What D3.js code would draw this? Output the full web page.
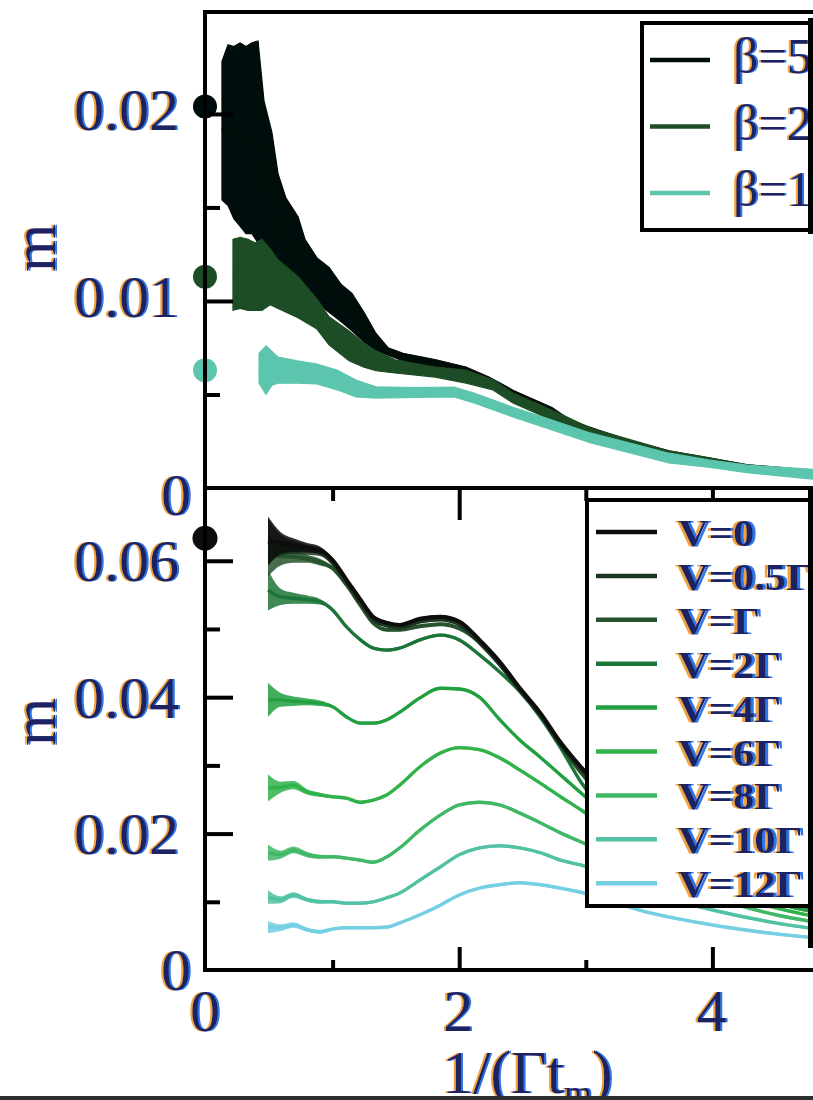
<!DOCTYPE html>
<html>
<head>
<meta charset="utf-8">
<script src="https://cdn.jsdelivr.net/npm/d3@7"></script>
<style>
  html, body { margin: 0; padding: 0; background: #fff; overflow: hidden; }
  svg { display: block; }
</style>
</head>
<body>
<svg id="chart" width="813" height="1100"></svg>
<script>
// ---------- shared abscissa: 1/(Γ t) ----------
const xMajorTicks = [2, 4];
const xMinorTicks = [1, 3];
const xTickLabels = [[0, "0"], [2, "2"], [4, "4"]];

// ---------- upper panel: temperature series (value and half error bar) ----------
const betaLabels = ["β=5", "β=2", "β=1"];
const betaExact = [0.0204, 0.0113, 0.0063];   // exact values at 1/(Γt) = 0

const beta5X   = [0.126, 0.174, 0.22, 0.269, 0.316, 0.363, 0.411, 0.458, 0.521, 0.569, 0.632, 0.727, 0.782, 0.877, 0.972, 1.066, 1.153, 1.248, 1.343, 1.438, 1.556, 1.809, 2.054, 2.235, 2.425, 2.733, 2.883, 3.041, 3.349, 3.657, 3.965, 4.273, 4.581, 4.795, 5.0];
const beta5M   = [0.0191, 0.0194, 0.0190, 0.0189, 0.0186, 0.0187, 0.0185, 0.0167, 0.0156, 0.0143, 0.0134, 0.0125, 0.0118, 0.0111, 0.0106, 0.0099, 0.0094, 0.0086, 0.0078, 0.0073, 0.0070, 0.0066, 0.0062, 0.00578, 0.00508, 0.00417, 0.00348, 0.00310, 0.00241, 0.00187, 0.00150, 0.00112, 0.00096, 0.00080, 0.00064];
const beta5Err = [0.0037, 0.0043, 0.0046, 0.0049, 0.0050, 0.0051, 0.0054, 0.0040, 0.0034, 0.0025, 0.0021, 0.0020, 0.0015, 0.0012, 0.0012, 0.0010, 0.0010, 0.0008, 0.00046, 0.0002, 0.0002, 0.00027, 0.00027, 0.00015, 0.00015, 0.00013, 0.00013, 0.00013, 0.00013, 0.00012, 0.00012, 0.00012, 0.00012, 0.00012, 0.00012];

const beta2X   = [0.213, 0.27, 0.332, 0.39, 0.442, 0.506, 0.569, 0.727, 0.877, 0.972, 1.13, 1.248, 1.343, 1.493, 1.809, 2.054, 2.267, 2.425, 2.733, 3.041, 3.657, 4.273, 5.0];
const beta2M   = [0.0114, 0.0115, 0.0114, 0.0113, 0.0114, 0.0113, 0.0109, 0.0102, 0.0093, 0.0084, 0.0076, 0.0071, 0.0068, 0.0065, 0.0062, 0.00596, 0.00551, 0.00481, 0.00390, 0.00299, 0.00179, 0.00107, 0.00061];
const beta2Err = [0.0019, 0.0019, 0.0019, 0.0018, 0.0019, 0.0015, 0.0013, 0.0011, 0.0008, 0.00075, 0.0008, 0.00064, 0.00053, 0.00035, 0.00027, 0.00035, 0.00027, 0.00027, 0.00027, 0.0002, 0.0002, 0.00018, 0.00016];

const beta1X   = [0.419, 0.474, 0.521, 0.569, 0.72, 0.877, 1.035, 1.185, 1.343, 1.651, 1.959, 2.117, 2.425, 2.733, 3.041, 3.349, 3.657, 3.965, 4.273, 4.771, 5.0];
const beta1M   = [0.0064, 0.0063, 0.0064, 0.0063, 0.0062, 0.0061, 0.00578, 0.00532, 0.00511, 0.00511, 0.00513, 0.00481, 0.00406, 0.00337, 0.00267, 0.00214, 0.00160, 0.00131, 0.00102, 0.00075, 0.00062];
const beta1Err = [0.0008, 0.0013, 0.0009, 0.0007, 0.0006, 0.00053, 0.00053, 0.00045, 0.0003, 0.00026, 0.00026, 0.00026, 0.00026, 0.00026, 0.00026, 0.00026, 0.00026, 0.0002, 0.0002, 0.00026, 0.00022];

const topMajorTicks = [0.01, 0.02];
const topMinorTicks = [0.005, 0.015];
const topTickLabels = [[0.01, "0.01"], [0.02, "0.02"]];

// ---------- lower panel: bias voltage series ----------
const biasLabels = ["V=0", "V=0.5Γ", "V=Γ", "V=2Γ", "V=4Γ", "V=6Γ", "V=8Γ", "V=10Γ", "V=12Γ"];
const biasExactV0 = 0.0633;   // exact V=0 value at 1/(Γt) = 0

const biasX = [0.49, 0.59, 0.69, 0.80, 0.90, 1.00, 1.11, 1.22, 1.32, 1.43, 1.53, 1.69, 1.85, 2.00, 2.16, 2.32, 2.48, 2.64, 2.80, 2.96, 3.50, 4.00, 4.50, 5.00];
const mV0   = [0.0629, 0.0626, 0.0623, 0.0619, 0.0616, 0.0601, 0.0572, 0.0543, 0.0518, 0.0509, 0.0506, 0.0515, 0.0518, 0.0511, 0.0484, 0.0452, 0.0413, 0.0377, 0.0334, 0.0298, 0.0205, 0.0150, 0.0110, 0.0088];
const mV05  = [0.0627, 0.0623, 0.0620, 0.0616, 0.0612, 0.0597, 0.0568, 0.0539, 0.0514, 0.0505, 0.0502, 0.0511, 0.0514, 0.0507, 0.0480, 0.0448, 0.0410, 0.0374, 0.0331, 0.0295, 0.0203, 0.0149, 0.0109, 0.0087];
const mV1   = [0.0609, 0.0607, 0.0606, 0.0603, 0.0598, 0.0589, 0.0565, 0.0535, 0.0509, 0.0499, 0.0499, 0.0504, 0.0507, 0.0501, 0.0481, 0.0449, 0.0411, 0.0374, 0.0330, 0.0290, 0.0198, 0.0145, 0.0109, 0.0085];
const mV2   = [0.0557, 0.0547, 0.0545, 0.0543, 0.0540, 0.0528, 0.0503, 0.0484, 0.0472, 0.0469, 0.0472, 0.0484, 0.0491, 0.0484, 0.0462, 0.0437, 0.0408, 0.0371, 0.0326, 0.0276, 0.0188, 0.0138, 0.0104, 0.0082];
const mV4   = [0.0396, 0.0396, 0.0394, 0.0393, 0.0391, 0.0386, 0.0371, 0.0362, 0.0362, 0.0367, 0.0378, 0.0399, 0.0413, 0.0412, 0.0400, 0.0367, 0.0337, 0.0312, 0.0286, 0.0260, 0.0176, 0.0129, 0.0098, 0.0078];
const mV6   = [0.0267, 0.0268, 0.0271, 0.0261, 0.0257, 0.0254, 0.0252, 0.0246, 0.0249, 0.0257, 0.0271, 0.0298, 0.0318, 0.0326, 0.0323, 0.0311, 0.0293, 0.0274, 0.0254, 0.0235, 0.0161, 0.0119, 0.0091, 0.0072];
const mV8   = [0.0172, 0.0169, 0.0176, 0.0169, 0.0166, 0.0166, 0.0164, 0.0161, 0.0158, 0.0166, 0.0179, 0.0205, 0.0227, 0.0242, 0.0246, 0.0242, 0.0230, 0.0216, 0.0201, 0.0188, 0.0139, 0.0106, 0.0081, 0.0065];
const mV10  = [0.0107, 0.0103, 0.0110, 0.0103, 0.0100, 0.0100, 0.0098, 0.0098, 0.0100, 0.0106, 0.0113, 0.0132, 0.0151, 0.0169, 0.0179, 0.0182, 0.0179, 0.0172, 0.0161, 0.0154, 0.0113, 0.0088, 0.0069, 0.0056];
const mV12  = [0.0063, 0.0062, 0.0066, 0.0059, 0.0056, 0.0060, 0.0062, 0.0062, 0.0062, 0.0063, 0.0069, 0.0081, 0.0095, 0.0110, 0.0120, 0.0125, 0.0128, 0.0125, 0.0120, 0.0114, 0.0084, 0.0066, 0.0053, 0.0044];

// error bars of the first few (earliest) points; later points share a small constant bar
const errHeadV0  = [0.0036, 0.0016, 0.0010, 0.0007, 0.0005];
const errHeadV05 = [0.0034, 0.0015, 0.0010, 0.0007, 0.0005];
const errHeadV1  = [0.0032, 0.0014, 0.0009, 0.0006, 0.0005];
const errHeadV2  = [0.0030, 0.0012, 0.0008, 0.0006, 0.0004];
const errHeadV4  = [0.0025, 0.0010, 0.0007, 0.0005, 0.0004];
const errHeadV6  = [0.0020, 0.0008, 0.0006, 0.0004, 0.0003];
const errHeadV8  = [0.0012, 0.0006, 0.0005, 0.0004, 0.0003];
const errHeadV10 = [0.0010, 0.0005, 0.0004, 0.0003, 0.0003];
const errHeadV12 = [0.0009, 0.0005, 0.0004, 0.0003, 0.0003];
const errTail = 0.00022;

const botMajorTicks = [0.02, 0.04, 0.06];
const botMinorTicks = [0.01, 0.03, 0.05];
const botTickLabels = [[0.02, "0.02"], [0.04, "0.04"], [0.06, "0.06"]];

// ---------- styling ----------
const betaColors = ["#050907", "#1c4d25", "#5cc5ae"];
const biasColors = ["#0a0d0b", "#1b3420", "#26532e", "#1f7437", "#21a041", "#30b24b", "#40b866", "#52c1a3", "#74cfe2"];
const serif = "'Liberation Serif', 'DejaVu Serif', serif";
const inkText = "#1c2462";

// ---------- scales ----------
const x    = d3.scaleLinear().domain([0, 5]).range([206, 839]);
const yTop = d3.scaleLinear().domain([0, 0.02545]).range([488, 12]);
const yBot = d3.scaleLinear().domain([0, 0.07067]).range([970, 488]);

const svg = d3.select("#chart");
const defs = svg.append("defs");

// colour fringing of the lettering
const fr = defs.append("filter").attr("id", "fringe")
  .attr("x", "-10%").attr("y", "-10%").attr("width", "120%").attr("height", "120%");
fr.append("feOffset").attr("in", "SourceAlpha").attr("dx", -2.2).attr("dy", 0).attr("result", "sa");
fr.append("feFlood").attr("flood-color", "#f0a43a").attr("result", "fo");
fr.append("feComposite").attr("in", "fo").attr("in2", "sa").attr("operator", "in").attr("result", "orange");
fr.append("feOffset").attr("in", "SourceAlpha").attr("dx", 2.2).attr("dy", 0).attr("result", "sb");
fr.append("feFlood").attr("flood-color", "#2f74e6").attr("result", "fb");
fr.append("feComposite").attr("in", "fb").attr("in2", "sb").attr("operator", "in").attr("result", "blue");
const fm = fr.append("feMerge");
fm.append("feMergeNode").attr("in", "orange");
fm.append("feMergeNode").attr("in", "blue");
fm.append("feMergeNode").attr("in", "SourceGraphic");

// gentle softening of the whole drawing
defs.append("filter").attr("id", "soft")
  .append("feGaussianBlur").attr("stdDeviation", 0.6);

defs.append("clipPath").attr("id", "clipTop")
  .append("rect").attr("x", 207).attr("y", 14).attr("width", 700).attr("height", 472);
defs.append("clipPath").attr("id", "clipBot")
  .append("rect").attr("x", 207).attr("y", 490).attr("width", 700).attr("height", 478);

const root = svg.append("g").attr("filter", "url(#soft)");
root.append("rect").attr("width", 813).attr("height", 1100).attr("fill", "#fff");

// ---------- upper panel data ----------
const zipTop = (xs, ms, es) => xs.map((v, i) => ({ x: v, m: ms[i], e: es[i] }));
const betaSeries = [
  zipTop(beta5X, beta5M, beta5Err),
  zipTop(beta2X, beta2M, beta2Err),
  zipTop(beta1X, beta1M, beta1Err)
];

const topPlot = root.append("g").attr("clip-path", "url(#clipTop)");
const topArea = d3.area()
  .x(d => x(d.x))
  .y0(d => yTop(d.m - d.e))
  .y1(d => yTop(d.m + d.e))
  .curve(d3.curveLinear);
const topLine = d3.line().x(d => x(d.x)).y(d => yTop(d.m)).curve(d3.curveLinear);

betaSeries.forEach((s, i) => {
  topPlot.append("path").attr("d", topArea(s))
    .attr("fill", betaColors[i]).attr("stroke", betaColors[i]).attr("stroke-width", 1.2);
  topPlot.append("path").attr("d", topLine(s))
    .attr("fill", "none").attr("stroke", betaColors[i]).attr("stroke-width", 2.5);
});

// exact values on the vertical axis
root.selectAll("circle.exactTop").data(betaExact).join("circle")
  .attr("class", "exactTop")
  .attr("cx", x(0) - 1).attr("cy", d => yTop(d)).attr("r", 12)
  .attr("fill", (d, i) => betaColors[i]);

// ---------- lower panel data ----------
const biasM = [mV0, mV05, mV1, mV2, mV4, mV6, mV8, mV10, mV12];
const biasErrHead = [errHeadV0, errHeadV05, errHeadV1, errHeadV2, errHeadV4, errHeadV6, errHeadV8, errHeadV10, errHeadV12];
const biasSeries = biasM.map((ms, k) => biasX.map((v, i) => ({
  x: v, m: ms[i], e: i < biasErrHead[k].length ? biasErrHead[k][i] : errTail
})));

const botPlot = root.append("g").attr("clip-path", "url(#clipBot)");
const botArea = d3.area()
  .x(d => x(d.x))
  .y0(d => yBot(d.m - d.e))
  .y1(d => yBot(d.m + d.e))
  .curve(d3.curveMonotoneX);
const botLine = d3.line().x(d => x(d.x)).y(d => yBot(d.m)).curve(d3.curveMonotoneX);

// lighter (higher bias) curves first so the dark ones lie on top
for (let k = biasSeries.length - 1; k >= 0; k--) {
  botPlot.append("path").attr("d", botArea(biasSeries[k]))
    .attr("fill", biasColors[k]).attr("fill-opacity", 0.85);
  botPlot.append("path").attr("d", botLine(biasSeries[k]))
    .attr("fill", "none").attr("stroke", biasColors[k]).attr("stroke-width", k < 3 ? 4 : 3.4);
}

root.append("circle")
  .attr("cx", x(0) - 1).attr("cy", yBot(biasExactV0)).attr("r", 12.5)
  .attr("fill", biasColors[0]);

// ---------- frames ----------
const frame = root.append("g").attr("fill", "none").attr("stroke", "#000").attr("stroke-width", 4);
frame.append("rect").attr("x", 205).attr("y", 12).attr("width", 700).attr("height", 476);
frame.append("rect").attr("x", 205).attr("y", 488).attr("width", 700).attr("height", 482);

// ---------- ticks ----------
function tickGroup(axis, tx, ty) {
  const g = root.append("g").attr("transform", `translate(${tx},${ty})`).call(axis);
  g.select(".domain").remove();
  g.selectAll(".tick line").attr("stroke", "#000").attr("stroke-width", 4);
  g.selectAll(".tick text").remove();
  return g;
}
tickGroup(d3.axisLeft(yTop).tickValues(topMajorTicks).tickSize(-28).tickFormat(""), 205, 0);
tickGroup(d3.axisLeft(yTop).tickValues(topMinorTicks).tickSize(-15).tickFormat(""), 205, 0);
tickGroup(d3.axisLeft(yBot).tickValues(botMajorTicks).tickSize(-28).tickFormat(""), 205, 0);
tickGroup(d3.axisLeft(yBot).tickValues(botMinorTicks).tickSize(-15).tickFormat(""), 205, 0);
tickGroup(d3.axisBottom(x).tickValues(xMajorTicks).tickSize(-23).tickFormat(""), 0, 970);
tickGroup(d3.axisBottom(x).tickValues(xMinorTicks).tickSize(-10).tickFormat(""), 0, 970);
tickGroup(d3.axisTop(x).tickValues(xMajorTicks).tickSize(-32).tickFormat(""), 0, 488);
tickGroup(d3.axisTop(x).tickValues(xMinorTicks).tickSize(-13).tickFormat(""), 0, 488);

// ---------- tick labels ----------
const labels = root.append("g")
  .attr("font-family", serif).attr("font-size", 60).attr("fill", inkText)
  .attr("filter", "url(#fringe)");

labels.selectAll("text.ytop").data(topTickLabels).join("text")
  .attr("class", "ytop").attr("text-anchor", "end")
  .attr("x", 179).attr("y", d => yTop(d[0]) - 4).attr("dy", "0.34em")
  .text(d => d[1]);
labels.selectAll("text.ybot").data(botTickLabels).join("text")
  .attr("class", "ybot").attr("text-anchor", "end")
  .attr("x", 179).attr("y", d => yBot(d[0])).attr("dy", "0.34em")
  .text(d => d[1]);
// zero labels of both panels
labels.append("text").attr("text-anchor", "middle")
  .attr("x", 176).attr("y", yTop(0) + 7).attr("dy", "0.34em").text("0");
labels.append("text").attr("text-anchor", "middle")
  .attr("x", 176).attr("y", yBot(0)).attr("dy", "0.34em").text("0");
labels.selectAll("text.xlab").data(xTickLabels).join("text")
  .attr("class", "xlab").attr("text-anchor", "middle")
  .attr("x", d => x(d[0]) - 1).attr("y", 1011).attr("dy", "0.34em")
  .text(d => d[1]);

// axis titles
labels.append("text").attr("font-size", 62).attr("text-anchor", "middle")
  .attr("transform", "translate(36,248) rotate(-90)").attr("dy", "0.3em").text("m");
labels.append("text").attr("font-size", 62).attr("text-anchor", "middle")
  .attr("transform", "translate(36,722) rotate(-90)").attr("dy", "0.3em").text("m");
const xTitle = labels.append("text").attr("font-size", 62).attr("x", 442).attr("y", 1093);
xTitle.append("tspan").text("1/(Γt");
xTitle.append("tspan").attr("font-size", 36).attr("dy", 12).text("m");
xTitle.append("tspan").attr("dy", -12).text(")");

// ---------- legends ----------
const legTop = root.append("g");
legTop.append("rect").attr("x", 642).attr("y", 23).attr("width", 260).attr("height", 207)
  .attr("fill", "#fff").attr("stroke", "#000").attr("stroke-width", 4);
betaLabels.forEach((lab, i) => {
  const ly = 60 + i * 66.5;
  legTop.append("line").attr("x1", 650).attr("x2", 710).attr("y1", ly).attr("y2", ly)
    .attr("stroke", betaColors[i]).attr("stroke-width", 4.5);
  legTop.append("text").attr("x", 733).attr("y", ly + 13)
    .attr("font-family", serif).attr("font-size", 50).attr("fill", inkText)
    .attr("filter", "url(#fringe)").text(lab);
});

const legBot = root.append("g");
legBot.append("rect").attr("x", 587).attr("y", 500).attr("width", 300).attr("height", 406)
  .attr("fill", "#fff").attr("stroke", "#000").attr("stroke-width", 4);
biasLabels.forEach((lab, i) => {
  const ly = 532 + i * 43.9;
  legBot.append("line").attr("x1", 596).attr("x2", 657).attr("y1", ly).attr("y2", ly)
    .attr("stroke", biasColors[i]).attr("stroke-width", 4.5);
  legBot.append("text")
    .attr("transform", `translate(678,${ly + 14}) scale(1.15,1)`)
    .attr("font-family", serif).attr("font-size", 37).attr("font-weight", "bold")
    .attr("fill", inkText).attr("filter", "url(#fringe)").text(lab);
});

// ---------- right-hand edge bars and bottom rule ----------
root.append("rect").attr("x", 808).attr("y", 18).attr("width", 5).attr("height", 216).attr("fill", "#000");
root.append("rect").attr("x", 808).attr("y", 488).attr("width", 5).attr("height", 460).attr("fill", "#000");
root.append("rect").attr("x", 0).attr("y", 1096).attr("width", 813).attr("height", 4).attr("fill", "#2e2e2e");
</script>
</body>
</html>
